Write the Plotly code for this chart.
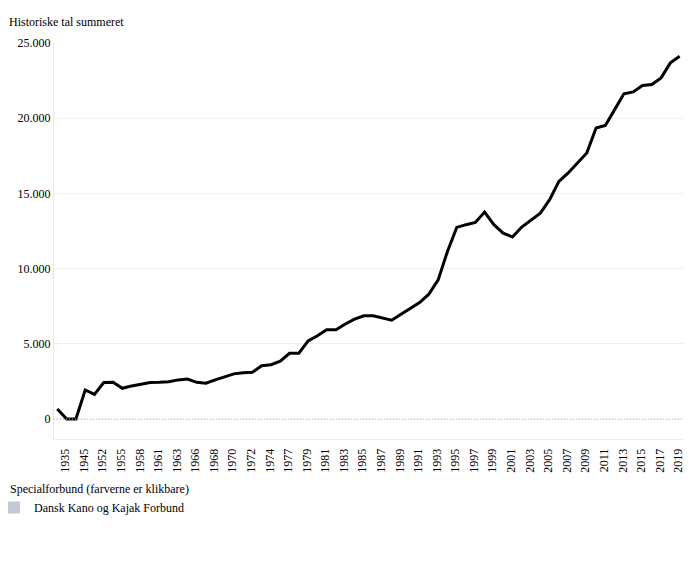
import plotly.graph_objects as go

years = ["1935", "1940", "1945", "1950", "1952", "1954", "1955", "1957", "1958", "1960",
         "1961", "1962", "1963", "1965", "1966", "1967", "1968", "1969", "1970", "1971",
         "1972", "1973", "1974", "1976", "1977", "1978", "1979", "1980", "1981", "1982",
         "1983", "1984", "1985", "1986", "1987", "1988", "1989", "1990", "1991", "1992",
         "1993", "1994", "1995", "1996", "1997", "1998", "1999", "2000", "2001", "2002",
         "2003", "2004", "2005", "2006", "2007", "2008", "2009", "2010", "2011", "2012",
         "2013", "2014", "2015", "2016", "2017", "2018", "2019", "2020"]

values = [660, 0, 0, 1930, 1640, 2420, 2440, 2040, 2200, 2330,
          2420, 2440, 2480, 2600, 2660, 2440, 2380, 2600, 2820, 3000,
          3080, 3110, 3540, 3610, 3840, 4370, 4370, 5190, 5530, 5930,
          5930, 6320, 6640, 6860, 6860, 6720, 6570, 6970, 7370, 7740,
          8300, 9250, 11140, 12740, 12920, 13070, 13760, 12920, 12360, 12100,
          12760, 13200, 13690, 14580, 15800, 16360, 17020, 17690, 19350, 19510,
          20570, 21620, 21750, 22170, 22240, 22680, 23680, 24120]

shown_labels = years[::2]

y_ticks = [0, 5000, 10000, 15000, 20000, 25000]

series_name = "Dansk Kano og Kajak Forbund"
legend_title = "Specialforbund (farverne er klikbare)"
chart_title = "Historiske tal summeret"

FONT = "Liberation Serif"

# page renders the figure with an 8px body offset
W, H = 686, 557
ML, MR, MT, MB = 46, 11, 35, 126
PW, PH = W - ML - MR, H - MT - MB

fig = go.Figure()
fig.add_trace(go.Scatter(
    x=years, y=values, mode="lines",
    line=dict(color="#000000", width=3),
    showlegend=False, name=series_name,
))
fig.add_trace(go.Scatter(
    x=[None], y=[None], mode="markers",
    marker=dict(symbol="square", size=13, color="#c3cad5"),
    name=series_name, showlegend=True,
))

fig.add_shape(type="line", xref="paper", yref="y", x0=0, x1=1, y0=0, y1=0,
              line=dict(color="#b0b0b0", width=1, dash="1px,2px"), layer="above")

fig.add_annotation(text=legend_title, xref="paper", yref="paper",
                   x=(0 - ML) / PW, xanchor="left",
                   y=-(481 - (H - MB)) / PH, yanchor="middle",
                   showarrow=False, font=dict(family=FONT, size=12, color="#000000"))

fig.update_layout(
    width=W, height=H,
    margin=dict(l=ML, r=MR, t=MT, b=MB, autoexpand=False),
    paper_bgcolor="white", plot_bgcolor="white",
    font=dict(family=FONT, size=12, color="#000000"),
    separators=",.",
    title=dict(text=chart_title, x=1/W, xref="container", xanchor="left",
               y=1 - 14/H, yref="container", yanchor="middle",
               font=dict(family=FONT, size=12, color="#000000")),
    legend=dict(
        orientation="h",
        x=(-14 - ML) / PW, xanchor="left",
        y=-(485 - (H - MB)) / PH, yanchor="top",
        font=dict(family=FONT, size=12), itemsizing="constant",
        bgcolor="rgba(0,0,0,0)", borderwidth=0,
    ),
    xaxis=dict(
        type="category", categoryorder="array", categoryarray=years,
        range=[-0.36, len(years) - 1 + 0.36],
        tickmode="array", tickvals=shown_labels, ticktext=shown_labels,
        tickangle=-90, ticks="", showgrid=False, zeroline=False,
        showline=True, linecolor="#eeeeee", linewidth=1,
        ticklabelshift=8, ticklabelstandoff=4,
        tickfont=dict(family=FONT, size=12, color="#000000"),
    ),
    yaxis=dict(
        range=[-1330, 25000], tickvals=y_ticks, tickformat=",d",
        showgrid=True, gridcolor="#f0f0f0", gridwidth=1, zeroline=False,
        showline=True, linecolor="#e6e6e6", linewidth=1, ticks="",
        tickfont=dict(family=FONT, size=12, color="#000000"),
    ),
)

fig.write_html("out.html")
